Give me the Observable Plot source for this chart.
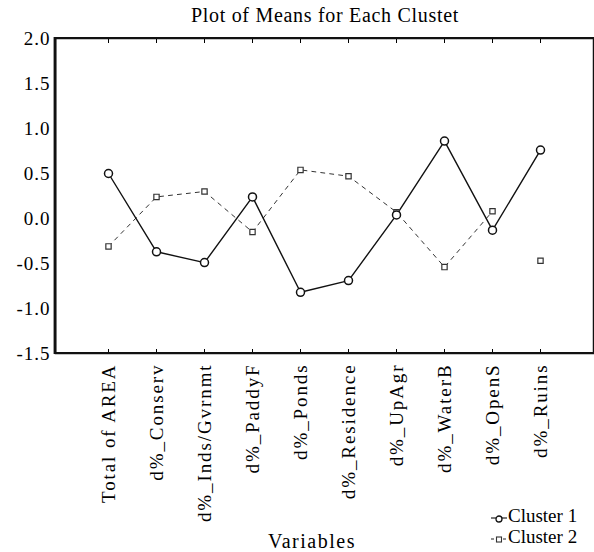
<!DOCTYPE html>
<html>
<head>
<meta charset="utf-8">
<script src="https://cdn.jsdelivr.net/npm/d3@7"></script>
<script src="https://cdn.jsdelivr.net/npm/@observablehq/plot@0.6"></script>
<style>
  body { margin: 0; background: #fff; }
  #wrap { position: relative; width: 594px; height: 552px; font-family: "Liberation Serif", "DejaVu Serif", serif; color: #000; }
  #wrap > svg { position: absolute; left: 0; top: 0; }
  .leg { position: absolute; white-space: nowrap; line-height: 1; }
  .leg svg { vertical-align: middle; }
  #wrap g[aria-label="x-axis tick label"] text { letter-spacing: 1.9px; }
  #wrap g[aria-label="y-axis tick label"] text { letter-spacing: 1px; }
</style>
</head>
<body>
<div id="wrap"></div>
<script>
const variables = ["Total of AREA", "d%_Conserv", "d%_Inds/Gvrnmt", "d%_PaddyF", "d%_Ponds", "d%_Residence", "d%_UpAgr", "d%_WaterB", "d%_OpenS", "d%_Ruins"];
const cluster1 = [0.50, -0.37, -0.49, 0.24, -0.82, -0.69, 0.04, 0.86, -0.13, 0.76];
const cluster2 = [-0.31, 0.24, 0.30, -0.15, 0.54, 0.47, 0.07, -0.54, 0.08, -0.47];
const yTicks = [2.0, 1.5, 1.0, 0.5, 0.0, -0.5, -1.0, -1.5];

const c1 = variables.map((v, i) => ({variable: v, value: cluster1[i]}));
const c2 = variables.map((v, i) => ({variable: v, value: cluster2[i]}));
const c2line = c2.slice(0, 9);

const chart = Plot.plot({
  width: 594,
  height: 552,
  marginTop: 38,
  marginBottom: 199,
  marginLeft: 55,
  marginRight: 1,
  style: {fontFamily: "Liberation Serif, serif", fontSize: "16px", color: "#000", background: "transparent"},
  x: {type: "point", domain: variables, padding: 1},
  y: {domain: [-1.5, 2.0]},
  marks: [
    Plot.axisY({ticks: yTicks, tickSize: 0, tickPadding: 5, tickFormat: d => d.toFixed(1), label: null, fontSize: 19}),
    Plot.axisX({tickSize: 0, tickPadding: 10, tickRotate: -90, label: null, fontSize: 19}),
    Plot.axisX({anchor: "bottom", tickSize: -4, tickFormat: () => "", label: null}),
    Plot.axisX({anchor: "top", tickSize: -4, tickFormat: () => "", label: null}),
    Plot.frame({stroke: "#111", strokeWidth: 1.5}),
    Plot.line(c2line, {x: "variable", y: "value", stroke: "#333", strokeWidth: 1, strokeDasharray: "4,5"}),
    Plot.line(c1, {x: "variable", y: "value", stroke: "#111", strokeWidth: 1.4}),
    Plot.dot(c2, {x: "variable", y: "value", symbol: "square", r: 3, stroke: "#333", strokeWidth: 1.2, fill: "white"}),
    Plot.dot(c1, {x: "variable", y: "value", symbol: "circle", r: 4, stroke: "#111", strokeWidth: 1.5, fill: "white"})
  ]
});
const wrap = document.getElementById("wrap");
wrap.appendChild(chart);

// thicker left/bottom/top frame edges like the reference
const svg = d3.select(chart);
svg.append("line").attr("x1", 55).attr("x2", 55).attr("y1", 37).attr("y2", 354).attr("stroke", "#111").attr("stroke-width", 2.8);
svg.append("line").attr("x1", 54).attr("x2", 594).attr("y1", 353).attr("y2", 353).attr("stroke", "#111").attr("stroke-width", 2);
svg.append("line").attr("x1", 54).attr("x2", 594).attr("y1", 38).attr("y2", 38).attr("stroke", "#111").attr("stroke-width", 2);

function addText(txt, left, top, size, extra) {
  const d = document.createElement("div");
  d.className = "leg";
  d.style.left = left + "px";
  d.style.top = top + "px";
  d.style.fontSize = size + "px";
  if (extra) Object.assign(d.style, extra);
  d.textContent = txt;
  wrap.appendChild(d);
  return d;
}
addText("Plot of Means for Each Clustet", 0, 5, 20, {width: "650px", textAlign: "center", letterSpacing: "0.7px"});
addText("Variables", 268, 531, 20, {letterSpacing: "1.5px"});

function legendItem(label, top, dashed, symbol) {
  const d = document.createElement("div");
  d.className = "leg";
  d.style.left = "491px";
  d.style.top = top + "px";
  d.style.fontSize = "19px";
  d.innerHTML = `<svg width="16" height="12"><line x1="0" x2="16" y1="6" y2="6" stroke="#222" stroke-width="1.2" ${dashed ? 'stroke-dasharray="3,3"' : ''}/>` +
    (symbol === "circle" ? `<circle cx="8" cy="7" r="3" fill="white" stroke="#111" stroke-width="1.3"/>` : `<rect x="5.5" y="4" width="5" height="5" fill="white" stroke="#333" stroke-width="1.1"/>`) +
    `</svg><span style="margin-left:1px">${label}</span>`;
  wrap.appendChild(d);
}
legendItem("Cluster 1", 506, false, "circle");
legendItem("Cluster 2", 527, true, "square");
</script>
</body>
</html>
